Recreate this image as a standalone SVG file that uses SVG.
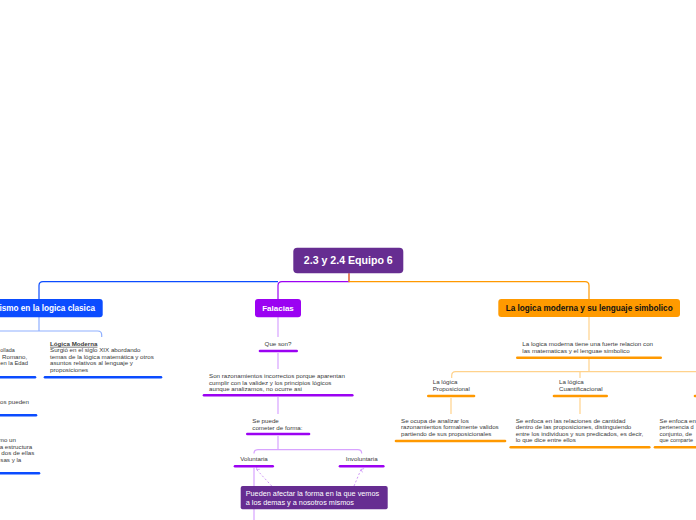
<svg xmlns="http://www.w3.org/2000/svg" width="696" height="520" viewBox="0 0 696 520">
<defs>
<style>
.t{font-family:"Liberation Sans",Arial,sans-serif;font-size:6.2px;fill:#3a3a3a}
.b{font-family:"Liberation Sans",Arial,sans-serif;font-weight:bold}
.w{fill:#fff}
.bar{stroke-width:2.6;stroke-linecap:round;fill:none}
.bb{stroke:#0b4cff}.pb{stroke:#9b02f2}.ob{stroke:#ff9900}
.c{fill:none;stroke-width:1.2}
.lb{stroke:#8fb0ff}.lp{stroke:#d8a3ff}.lo{stroke:#ffd28c}
</style>
<marker id="ar" viewBox="0 0 6 6" refX="3" refY="1" markerWidth="5" markerHeight="5" orient="auto-start-reverse" markerUnits="userSpaceOnUse">
<path d="M0.5 4 L3 1 L5.5 4" fill="none" stroke="#c98cf5" stroke-width="0.8"/>
</marker>
</defs>
<rect width="696" height="520" fill="#fff"/>
<g id="connectors">
<path class="c" stroke="#0b4cff" d="M278 281.6 H43 Q39 281.6 39 285.6 V299"/>
<path class="c" stroke="#9b02f2" d="M349 273.3 V281.6 H282 Q278 281.6 278 285.6 V299"/>
<path class="c" stroke="#ff9900" d="M349 273.3 V281.6 H585 Q589 281.6 589 285.6 V299"/>
<path class="c lb" d="M39 317 V331 M0 331 H97.7 Q101.7 331 101.7 335 V337"/>
<path class="c lp" d="M278 317 V337 M278 353 V369 M278 397 V414 M278 436 V449.7 M254 453.5 Q254 449.7 258 449.7 H357.7 Q361.7 449.7 361.7 453.5 M254 468 V520"/>
<path class="c lo" d="M589 317 V340 M589 359 V371.7 M451.7 378 V375.7 Q451.7 371.7 455.7 371.7 H696 M580 371.7 V378 M451 398 V414 M580 398 V414"/>
<path fill="none" stroke="#c98cf5" stroke-width="0.9" stroke-dasharray="2 2" marker-end="url(#ar)" d="M271.7 486 L256.5 469.5"/>
<path fill="none" stroke="#c98cf5" stroke-width="0.9" stroke-dasharray="2 2" marker-end="url(#ar)" d="M354 486 L361 469.5"/>
</g>
<g id="root">
<rect x="293.3" y="247.7" width="110" height="25.6" rx="4" fill="#662d91"/>
<text class="b w" x="348.3" y="264.3" font-size="10.6" text-anchor="middle">2.3 y 2.4 Equipo 6</text>
</g>
<g id="logica-clasica">
<rect x="-30" y="299" width="132.7" height="18.3" rx="3" fill="#0b4cff"/>
<text class="b w" x="95" y="311" font-size="8.2" text-anchor="end">ismo en la logica clasica</text>
</g>
<g id="clasica-desc">
<text class="t"><tspan x="0.3" y="352.2" textLength="14.4" lengthAdjust="spacingAndGlyphs">ollada</tspan><tspan x="2" y="358.8">Romano,</tspan><tspan x="0.3" y="365.4" textLength="27.7" lengthAdjust="spacingAndGlyphs">en la Edad</tspan></text>
<path class="bar bb" d="M-5 377.3 H35"/>
</g>
<g id="logica-moderna-desc">
<text class="t" x="50"><tspan x="50" y="345.8" font-weight="bold" text-decoration="underline">Lógica Moderna</tspan><tspan x="50" y="352.2">Surgió en el siglo XIX abordando</tspan><tspan x="50" y="358.8">temas de la lógica matemática y otros</tspan><tspan x="50" y="365.4">asuntos relativos al lenguaje y</tspan><tspan x="50" y="372">proposiciones</tspan></text>
<path class="bar bb" d="M45 377.3 H161"/>
</g>
<g id="clasica-item2">
<text class="t" x="29" y="404" text-anchor="end">os pueden</text>
<path class="bar bb" d="M-5 415.3 H36"/>
</g>
<g id="clasica-item3">
<text class="t" text-anchor="end"><tspan x="16" y="442">mo un</tspan><tspan x="32.3" y="448.6">a estructura</tspan><tspan x="34.3" y="455.2">dos de ellas</tspan><tspan x="21.3" y="461.8">sas y la</tspan></text>
<path class="bar bb" d="M-5 473.3 H39"/>
</g>
<g id="falacias">
<rect x="255" y="299" width="46" height="18.3" rx="3" fill="#9b02f2"/>
<text class="b w" x="278" y="310.8" font-size="8" text-anchor="middle">Falacias</text>
</g>
<g id="que-son">
<text class="t" x="278" y="346" text-anchor="middle">Que son?</text>
<path class="bar pb" d="M260 351 H296.7"/>
</g>
<g id="son-razonamientos">
<text class="t"><tspan x="209" y="378">Son razonamientos incorrectos porque aparentan</tspan><tspan x="209" y="384.5">cumplir con la validez y los principios lógicos</tspan><tspan x="209" y="391">aunque analizamos, no ocurre asi</tspan></text>
<path class="bar pb" d="M204 395.3 H352.3"/>
</g>
<g id="se-puede">
<text class="t"><tspan x="252.3" y="423">Se puede</tspan><tspan x="252.3" y="429.5">cometer de forma:</tspan></text>
<path class="bar pb" d="M247.3 434 H309"/>
</g>
<g id="voluntaria">
<text class="t" x="254" y="461" text-anchor="middle">Voluntaria</text>
<path class="bar pb" d="M235 466.3 H272.7"/>
</g>
<g id="involuntaria">
<text class="t" x="361.7" y="461" text-anchor="middle">Involuntaria</text>
<path class="bar pb" d="M340 466.3 H383.3"/>
</g>
<g id="pueden-afectar">
<rect x="240.7" y="486" width="147" height="23.3" rx="2" fill="#662d91"/>
<text class="w" font-family="Liberation Sans, Arial, sans-serif" font-size="7.3"><tspan x="245.7" y="496.3">Pueden afectar la forma en la que vemos</tspan><tspan x="245.7" y="505">a los demas y a nosotros mismos</tspan></text>
</g>
<g id="logica-moderna">
<rect x="498.3" y="299" width="181.7" height="18" rx="3" fill="#ff9a00"/>
<text class="b" x="589.2" y="310.8" font-size="8.2" text-anchor="middle" fill="#111">La logica moderna y su lenguaje simbolico</text>
</g>
<g id="relacion">
<text class="t"><tspan x="522.3" y="346">La logica moderna tiene una fuerte relacion con</tspan><tspan x="522.3" y="352.6">las matematicas y el lenguae simbolico</tspan></text>
<path class="bar ob" d="M517.3 357.7 H660.7"/>
</g>
<g id="proposicional">
<text class="t"><tspan x="432.7" y="383.6">La lógica</tspan><tspan x="432.7" y="390.6">Proposicional</tspan></text>
<path class="bar ob" d="M428.3 396 H474"/>
</g>
<g id="cuantificacional">
<text class="t"><tspan x="559" y="383.6">La lógica</tspan><tspan x="559" y="390.6">Cuantificacional</tspan></text>
<path class="bar ob" d="M554 396 H606.7"/>
</g>
<g id="tercera">
<path class="bar ob" d="M695 396 H705"/>
</g>
<g id="proposicional-desc">
<text class="t"><tspan x="401" y="423">Se ocupa de analizar los</tspan><tspan x="401" y="429.4">razonamientos formalmente validos</tspan><tspan x="401" y="435.8">partiendo de sus proposicionales</tspan></text>
<path class="bar ob" d="M396 441 H505"/>
</g>
<g id="cuantificacional-desc">
<text class="t"><tspan x="515.7" y="423">Se enfoca en las relaciones de cantidad</tspan><tspan x="515.7" y="429.4">dentro de las proposiciones, distinguiendo</tspan><tspan x="515.7" y="435.8">entre los individuos y sus predicados, es decir,</tspan><tspan x="515.7" y="442.2">lo que dice entre ellos</tspan></text>
<path class="bar ob" d="M510.7 447.3 H649.3"/>
</g>
<g id="tercera-desc">
<text class="t"><tspan x="659.5" y="423">Se enfoca en</tspan><tspan x="659.5" y="429.4" textLength="34" lengthAdjust="spacingAndGlyphs">pertenencia d</tspan><tspan x="659.5" y="435.8" textLength="32.5" lengthAdjust="spacingAndGlyphs">conjunto, de</tspan><tspan x="659.5" y="442.2" textLength="33.5" lengthAdjust="spacingAndGlyphs">que comparte</tspan></text>
<path class="bar ob" d="M655 447.3 H705"/>
</g>
</svg>
